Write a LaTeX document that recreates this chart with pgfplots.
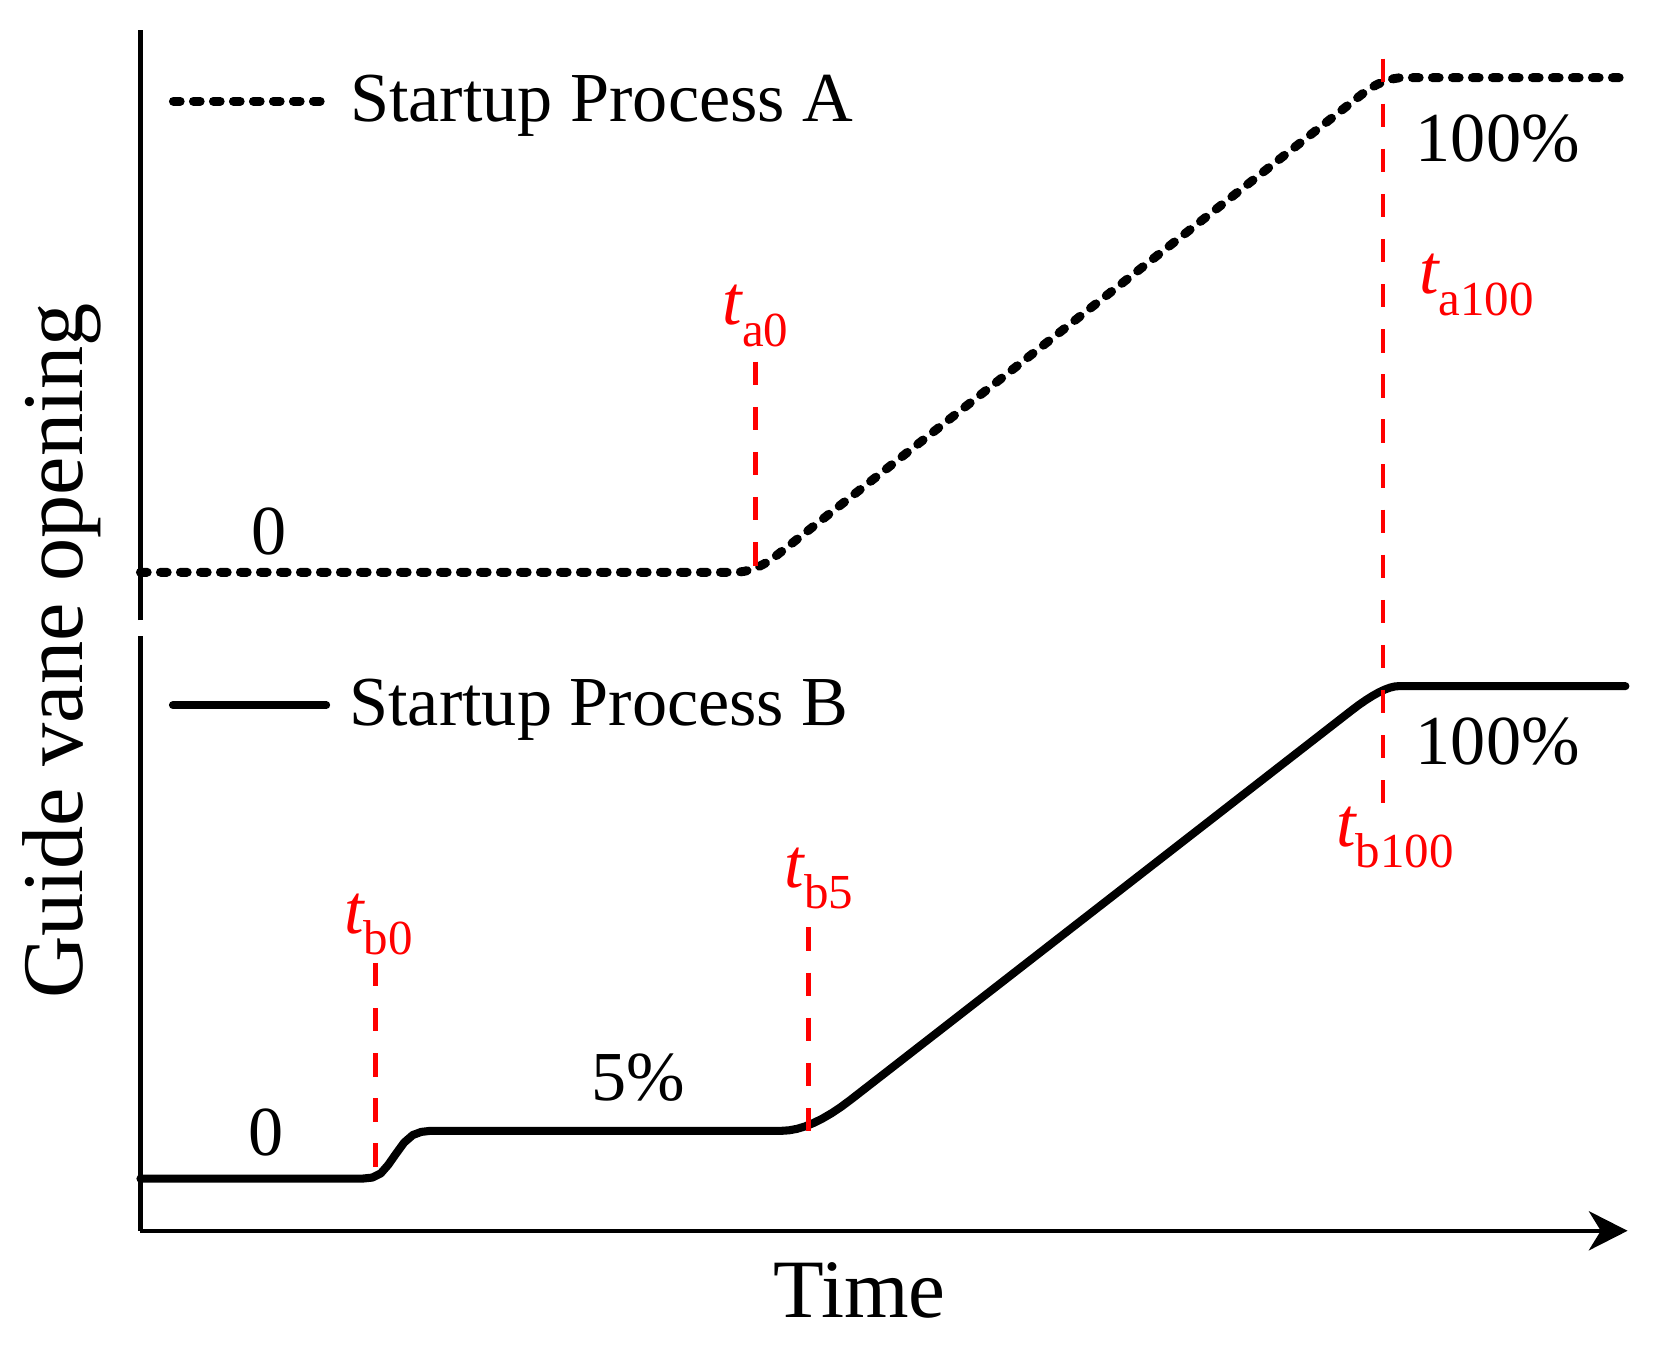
\documentclass[border=0pt]{standalone}
\usepackage{fontspec}
\setmainfont{Liberation Serif}
\usepackage{pgfplots}
\pgfplotsset{compat=1.18}
\usetikzlibrary{arrows.meta}

\newcommand{\lbl}{\fontsize{16.5}{19.8}\selectfont}
\newcommand{\tsub}[1]{{\itshape t}\raisebox{-5pt}{\fontsize{11.5}{13}\selectfont #1}}

\pgfplotsset{
  guide/.style={
    scale only axis, width=349.5pt,
    xmin=0, xmax=99.857,
    ticks=none, clip=false,
    axis line style={line width=1.05pt, -},
    legend image code/.code={\draw[##1] (0pt,0pt) -- (36pt,0pt);},
    legend style={draw=none, fill=none, inner sep=0pt, anchor=west,
      column sep=4.5pt, font=\lbl, nodes={inner sep=0pt}},
  },
  curveA/.style={black, line width=2.1pt, line cap=round,
    dash pattern=on 1.6pt off 3.1pt},
  curveB/.style={black, line width=1.9pt, line join=round, line cap=round},
  marker/.style={red, line width=1.1pt, dash pattern=on 5.5pt off 5.1pt},
}

\begin{document}
\begin{tikzpicture}

% lower panel: process B, carries the time axis
\begin{axis}[guide,
  at={(0,0)}, anchor=south west,
  height=139.75pt,
  ymin=-10.58, ymax=110.15,
  axis lines=left,
  x axis line style={-{Stealth[length=9.1pt,width=9.2pt,inset=2.8pt]}},
  y axis line style={-},
  xlabel={Time},
  xlabel style={font=\fontsize{19.5}{23}\selectfont,
    at={(axis description cs:0.4835,0)}, anchor=center, yshift=-14pt},
  legend style={at={(rel axis cs:0.0186,0.884)}},
]
\addplot[curveB] coordinates {
  (0,0) (14.86,0) (15.57,0.22) (16.14,1.08) (16.64,2.81) (17.14,4.97)
  (17.71,7.34) (18.29,8.86) (18.86,9.50) (19.5,9.72) (43.07,9.72)
  (43.56,9.82) (44.09,10.12) (44.63,10.61) (45.20,11.31) (45.79,12.20)
  (46.41,13.29) (47.05,14.58) (47.71,16.07) (81.29,94.99) (81.80,96.16)
  (82.29,97.18) (82.74,98.04) (83.16,98.75) (83.55,99.30) (83.90,99.69)
  (84.21,99.92) (84.5,100) (99.71,100)};
\addlegendentry{Startup Process B}
\addplot[marker, forget plot] coordinates {(15.79,43.8) (15.79,0)};
\addplot[marker, forget plot] coordinates {(44.86,51.0) (44.86,9.72)};
\node[font=\lbl] at (axis cs:8.43,9.29) {0};
\node[font=\lbl] at (axis cs:33.43,20.52) {5\%};
\node[font=\lbl] at (axis cs:91.14,88.77) {100\%};
\node[red, font=\lbl] at (axis cs:16.0,51.62) {\tsub{b0}};
\node[red, font=\lbl] at (axis cs:45.57,60.9) {\tsub{b5}};
\node[red, font=\lbl] at (axis cs:84.25,69.22) {\tsub{b100}};
\end{axis}

% upper panel: process A
\begin{axis}[guide,
  at={(0,143.5pt)}, anchor=south west,
  height=138.75pt,
  ymin=-9.68, ymax=109.68,
  axis x line=none, axis y line=left,
  y axis line style={-},
  legend style={at={(rel axis cs:0.0186,0.879)}},
]
\addplot[curveA] coordinates {
  (0,0) (39.86,0) (40.21,0.05) (40.57,0.21) (40.93,0.48) (41.29,0.85)
  (41.64,1.33) (42,1.91) (42.36,2.60) (42.71,3.40)
  (82,96.60) (82.36,97.40) (82.71,98.09) (83.07,98.67) (83.43,99.15)
  (83.79,99.52) (84.14,99.79) (84.5,99.95) (84.86,100) (99.71,100)};
\addlegendentry{Startup Process A}
\addplot[marker, forget plot] coordinates {(41.29,42.58) (41.29,0)};
\addplot[marker, forget plot] coordinates {(83.43,103.87) (83.43,-46.67)};
\node[font=\lbl] at (axis cs:8.64,8.17) {0};
\node[font=\lbl] at (axis cs:91.14,87.74) {100\%};
\node[red, font=\lbl] at (axis cs:41.29,51.83) {\tsub{a0}};
\node[red, font=\lbl] at (axis cs:89.71,58.06) {\tsub{a100}};
\end{axis}

\node[rotate=90, anchor=base, font=\fontsize{20.3}{24}\selectfont]
  at (-13.5pt,136.25pt) {Guide vane opening};
\path (-33pt,-27.5pt) rectangle (359pt,289.25pt);
\end{tikzpicture}
\end{document}
